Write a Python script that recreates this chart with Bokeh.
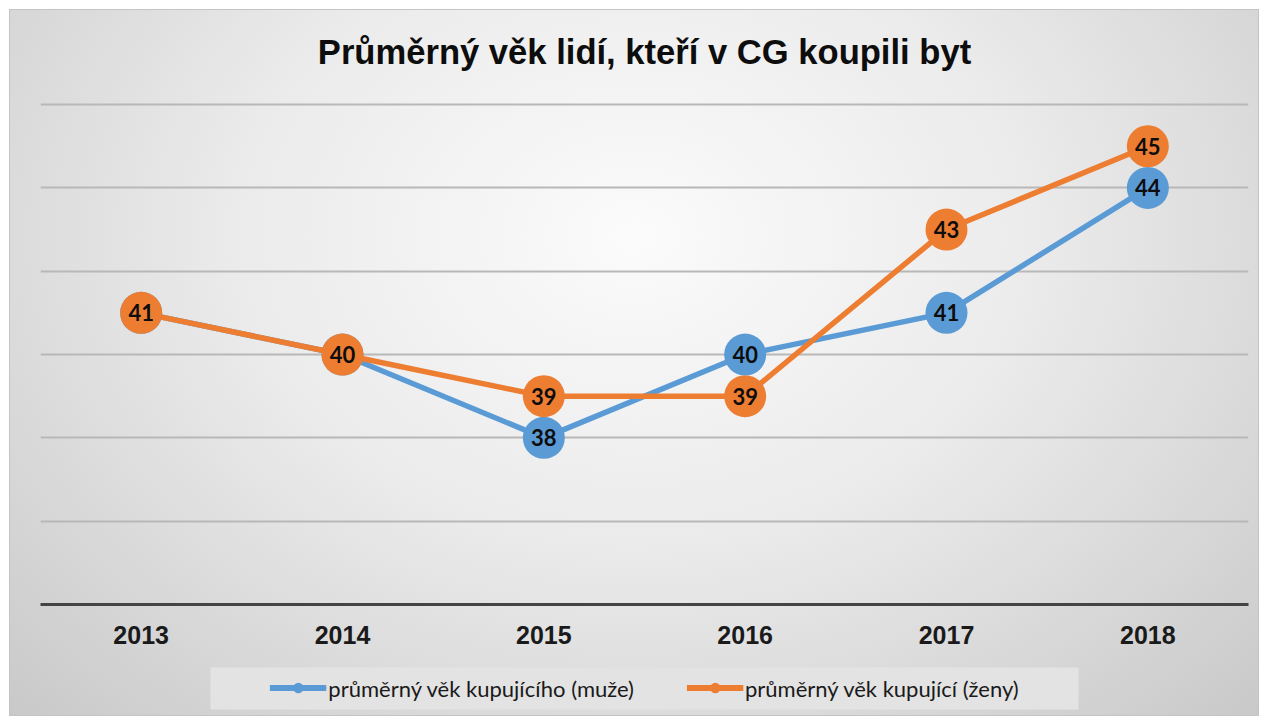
from bokeh.plotting import figure
from bokeh.models import (ColumnDataSource, FactorRange, Range1d, FixedTicker,
                          Legend, LegendItem, BoxAnnotation, Label)
from bokeh.layouts import column
from bokeh.core.properties import value
from bokeh.embed import file_html
from bokeh.resources import INLINE

years = ["2013", "2014", "2015", "2016", "2017", "2018"]
men = [41, 40, 38, 40, 41, 44]
women = [41, 40, 39, 39, 43, 45]
grid_ticks = [36, 38, 40, 42, 44, 46]
title_text = "Průměrný věk lidí, kteří v CG koupili byt"
men_label = "průměrný věk kupujícího (muže)"
women_label = "průměrný věk kupující (ženy)"

BLUE = "#5B9BD5"
ORANGE = "#ED7D31"

# frame extends up to the top so that the title can sit inside it
p = figure(width=1248, height=650, output_backend="svg", toolbar_location=None,
           x_range=FactorRange(factors=years), y_range=Range1d(34, 48.21),
           y_axis_location=None, min_border_left=30, min_border_right=10,
           min_border_top=2, min_border_bottom=56)
p.border_fill_color = None
p.background_fill_color = None
p.outline_line_color = None

p.add_layout(Label(x=3, y=47.27, text=title_text, text_font="Liberation Sans",
                   text_font_size="34.6px", text_font_style="bold",
                   text_color="#0d0d0d", text_align="center",
                   text_baseline="alphabetic"))

p.xgrid.visible = False
p.ygrid.ticker = FixedTicker(ticks=grid_ticks)
p.ygrid.grid_line_color = "#b8b8b8"
p.ygrid.grid_line_width = 2

xa = p.xaxis[0]
xa.axis_line_color = "#444444"
xa.axis_line_width = 3
xa.major_tick_line_color = None
xa.minor_tick_line_color = None
xa.major_label_text_font = "Liberation Sans"
xa.major_label_text_font_size = "25px"
xa.major_label_text_font_style = "bold"
xa.major_label_text_color = "#1a1a1a"
xa.major_label_standoff = 15

src_m = ColumnDataSource(dict(x=years, y=men, t=[str(v) for v in men]))
src_w = ColumnDataSource(dict(x=years, y=women, t=[str(v) for v in women]))

p.line("x", "y", source=src_m, line_color=BLUE, line_width=5.5)
p.scatter("x", "y", source=src_m, size=42, fill_color=BLUE, line_color=None)
p.text("x", "y", text="t", source=src_m, text_font=value("Lato"),
       text_font_size="22px", text_font_style="bold", text_color="#0d0d0d",
       text_align="center", text_baseline="middle")

p.line("x", "y", source=src_w, line_color=ORANGE, line_width=5.5)
p.scatter("x", "y", source=src_w, size=42, fill_color=ORANGE, line_color=None)
p.text("x", "y", text="t", source=src_w, text_font=value("Lato"),
       text_font_size="22px", text_font_style="bold", text_color="#0d0d0d",
       text_align="center", text_baseline="middle")

# legend strip below the chart; x/y ranges in pixels of its frame
lf = figure(width=1248, height=55, output_backend="svg", toolbar_location=None,
            x_range=Range1d(0, 1208), y_range=Range1d(0, 55),
            x_axis_location=None, y_axis_location=None,
            min_border_left=30, min_border_right=10,
            min_border_top=0, min_border_bottom=0)
lf.border_fill_color = None
lf.background_fill_color = None
lf.outline_line_color = None
lf.grid.visible = False
lf.add_layout(BoxAnnotation(left=170, right=1038, bottom=6, top=48,
                            fill_color="#e3e3e3", fill_alpha=1, line_color=None))
# off-view proxies that only supply the legend swatches
lm = lf.line(x=[-500, -400], y=[-500, -500], line_color=BLUE, line_width=6)
sm = lf.scatter(x=[-450], y=[-500], size=42, fill_color=BLUE, line_color=None)
lw = lf.line(x=[-500, -400], y=[-500, -500], line_color=ORANGE, line_width=6)
sw = lf.scatter(x=[-450], y=[-500], size=42, fill_color=ORANGE, line_color=None)

legend = Legend(items=[LegendItem(label=men_label, renderers=[lm, sm]),
                       LegendItem(label=women_label, renderers=[lw, sw])],
                orientation="horizontal", location="center")
legend.label_text_font = "Lato"
legend.label_text_font_size = "22px"
legend.label_text_color = "#1a1a1a"
legend.glyph_width = 57
legend.glyph_height = 26
legend.label_standoff = 2
legend.spacing = 52
legend.padding = 0
legend.margin = 0
legend.background_fill_alpha = 0
legend.border_line_color = None
lf.add_layout(legend)

col = column(p, lf, spacing=0)
col.margin = (10, 10, 6, 10)
col.styles = {
    "background": "radial-gradient(ellipse farthest-corner at 50% 32%, #fbfbfb 0%, #ebebeb 45%, #c9c9c9 100%)",
    "box-shadow": "0 0 0 1px #c4c4c4",
}

open("out.html", "w").write(file_html(col, INLINE))
